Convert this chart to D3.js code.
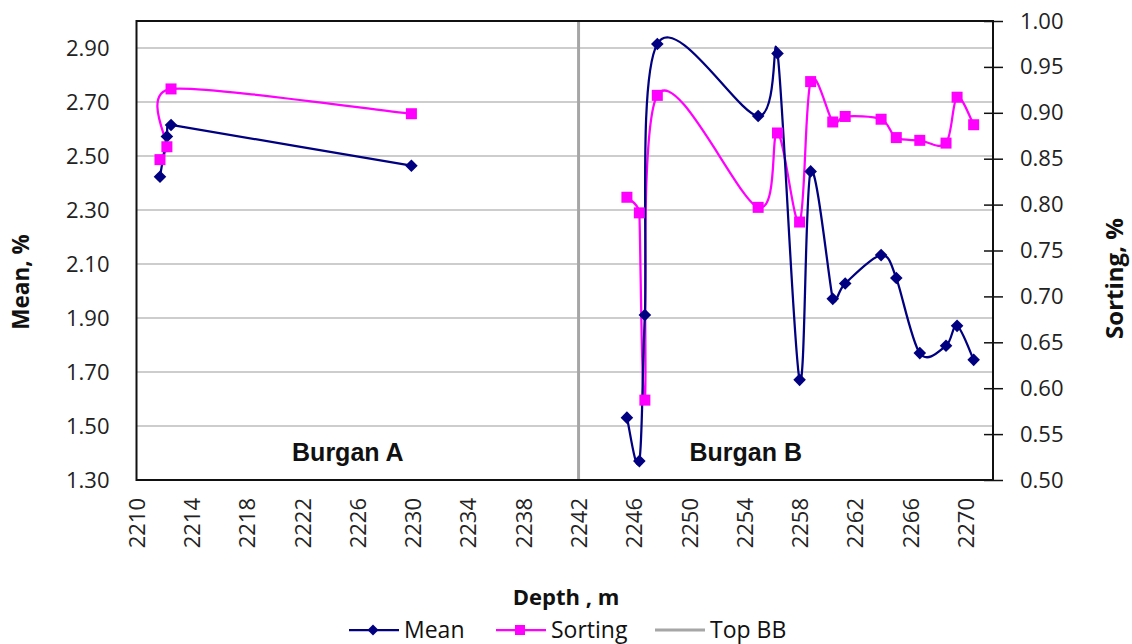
<!DOCTYPE html>
<html><head><meta charset="utf-8">
<script src="https://cdn.jsdelivr.net/npm/d3@7/dist/d3.min.js"></script>
<style>body{margin:0;background:#fff} svg{display:block}</style>
</head><body><svg id="c" width="1132" height="644"></svg>
<script>
// ---- data ----
const depthA = [2211.7, 2212.2, 2212.5, 2229.9];
const meanA = [2.423, 2.572, 2.615, 2.464];
const sortingA = [0.849, 0.863, 0.926, 0.899];
const depthB = [2245.5, 2246.4, 2246.8, 2247.7, 2255.0, 2256.4, 2258.0, 2258.8, 2260.4, 2261.3, 2263.9, 2265.0, 2266.7, 2268.6, 2269.4, 2270.6];
const meanB = [1.531, 1.370, 1.911, 2.915, 2.648, 2.880, 1.671, 2.443, 1.971, 2.028, 2.133, 2.048, 1.770, 1.797, 1.871, 1.745];
const sortingB = [0.808, 0.791, 0.587, 0.919, 0.797, 0.878, 0.781, 0.934, 0.890, 0.896, 0.893, 0.873, 0.870, 0.867, 0.917, 0.887];
const topBBDepth = [2242, 2242];
const topBBMean = [1.3, 3.0];
const xTicks = [2210, 2214, 2218, 2222, 2226, 2230, 2234, 2238, 2242, 2246, 2250, 2254, 2258, 2262, 2266, 2270];
const yLeftTicks = [1.3, 1.5, 1.7, 1.9, 2.1, 2.3, 2.5, 2.7, 2.9];
const yRightTicks = [0.5, 0.55, 0.6, 0.65, 0.7, 0.75, 0.8, 0.85, 0.9, 0.95, 1.0];
const zoneLabels = ["Burgan A", "Burgan B"];
const zoneDepths = [2225.3, 2254.1];
const legendNames = ["Mean", "Sorting", "Top BB"];

// ---- layout ----
const L = 136.5, R = 993, T = 21, B = 480;
const svg = d3.select("#c");
const x = d3.scaleLinear().domain([2210, 2272]).range([L, R]);
const yL = d3.scaleLinear().domain([1.3, 3.0]).range([B, T]);
const yR = d3.scaleLinear().domain([0.5, 1.0]).range([B, T]);
const meanColor = "#000080", sortColor = "#ff00ff", topColor = "#a6a6a6";
const tickFont = "'Open Sans', sans-serif";

// gridlines
svg.append("g").selectAll("line").data(yLeftTicks.slice(1)).join("line")
  .attr("x1", L).attr("x2", R).attr("y1", d => yL(d)).attr("y2", d => yL(d))
  .attr("stroke", "#bdbdbd").attr("stroke-width", 1.5);

// left axis labels
const axL = svg.append("g").attr("transform", `translate(${L},0)`)
  .call(d3.axisLeft(yL).tickValues(yLeftTicks).tickFormat(d3.format(".2f")).tickSize(0).tickPadding(27));
axL.select(".domain").remove();
axL.selectAll("text").attr("font-family", tickFont).attr("font-size", 22).attr("fill", "#222");

// right axis
const axR = svg.append("g").attr("transform", `translate(${R},0)`)
  .call(d3.axisRight(yR).tickValues(yRightTicks).tickFormat(d3.format(".2f")).tickSize(10).tickPadding(17));
axR.select(".domain").remove();
axR.selectAll(".tick line").attr("x1", -9).attr("stroke", "#111").attr("stroke-width", 1.5);
axR.selectAll("text").attr("font-family", tickFont).attr("font-size", 22).attr("fill", "#222");

// bottom axis labels
const axB = svg.append("g").attr("transform", `translate(0,${B})`)
  .call(d3.axisBottom(x).tickValues(xTicks).tickFormat(d3.format("d")).tickSize(0));
axB.select(".domain").remove();
axB.selectAll("text")
  .attr("font-family", tickFont).attr("font-size", 22).attr("fill", "#222")
  .attr("text-anchor", "end").attr("transform", "rotate(-90)")
  .attr("x", -18).attr("y", 0).attr("dy", "0.36em");

// Top BB line
svg.append("line")
  .attr("x1", x(topBBDepth[0])).attr("x2", x(topBBDepth[1]))
  .attr("y1", yL(topBBMean[0])).attr("y2", yL(topBBMean[1]))
  .attr("stroke", topColor).attr("stroke-width", 3);

// plot border
svg.append("rect").attr("x", L).attr("y", T).attr("width", R - L).attr("height", B - T)
  .attr("fill", "none").attr("stroke", "#111").attr("stroke-width", 2);

// spreadsheet-style smoothed line: Catmull-Rom tangents, limited to half of the adjacent segments
function smoothPath(pts) {
  const n = pts.length;
  const dist = (a, b) => Math.hypot(b[0] - a[0], b[1] - a[1]);
  const tang = pts.map((p, i) => {
    const a = pts[Math.max(0, i - 1)], b = pts[Math.min(n - 1, i + 1)];
    const t = [b[0] - a[0], b[1] - a[1]];
    const len = Math.hypot(t[0], t[1]) || 1;
    let f = 1 / 6;
    if (i > 0) f = Math.min(f, dist(pts[i - 1], p) / (2 * len));
    if (i < n - 1) f = Math.min(f, dist(p, pts[i + 1]) / (2 * len));
    return [t[0] * f, t[1] * f];
  });
  const path = d3.path();
  path.moveTo(pts[0][0], pts[0][1]);
  for (let i = 0; i < n - 1; i++) {
    const p = pts[i], q = pts[i + 1];
    path.bezierCurveTo(p[0] + tang[i][0], p[1] + tang[i][1],
      q[0] - tang[i + 1][0], q[1] - tang[i + 1][1], q[0], q[1]);
  }
  return path.toString();
}

function drawSeries(depths, vals, ys, color) {
  const pts = depths.map((d, i) => [x(d), ys(vals[i])]);
  svg.append("path").attr("d", smoothPath(pts))
    .attr("fill", "none").attr("stroke", color).attr("stroke-width", 2.25);
  return pts;
}
const sortPts = [drawSeries(depthA, sortingA, yR, sortColor), drawSeries(depthB, sortingB, yR, sortColor)].flat();
const meanPts = [drawSeries(depthA, meanA, yL, meanColor), drawSeries(depthB, meanB, yL, meanColor)].flat();

const diamond = s => `M0,${-s}L${s},0L0,${s}L${-s},0Z`;
svg.append("g").selectAll("path").data(meanPts).join("path")
  .attr("transform", d => `translate(${d[0]},${d[1]})`).attr("d", diamond(6.3))
  .attr("fill", meanColor);
svg.append("g").selectAll("rect").data(sortPts).join("rect")
  .attr("x", d => d[0] - 5.5).attr("y", d => d[1] - 5.5).attr("width", 11).attr("height", 11)
  .attr("fill", sortColor);

// zone labels
svg.append("g").selectAll("text").data(zoneLabels).join("text")
  .attr("x", (d, i) => x(zoneDepths[i])).attr("y", 461)
  .attr("text-anchor", "middle").attr("font-family", "'Liberation Sans', Arial, sans-serif")
  .attr("font-weight", "bold").attr("font-size", 25).attr("fill", "#111").text(d => d);

// axis titles
svg.append("text").attr("transform", "translate(21,282) rotate(-90)")
  .attr("text-anchor", "middle").attr("dy", "0.35em")
  .attr("font-family", tickFont).attr("font-weight", "bold").attr("font-size", 22.5).attr("fill", "#111")
  .text("Mean, %");
svg.append("text").attr("transform", "translate(1114.5,278.5) rotate(-90)")
  .attr("text-anchor", "middle").attr("dy", "0.35em")
  .attr("font-family", tickFont).attr("font-weight", "bold").attr("font-size", 24).attr("fill", "#111")
  .text("Sorting, %");
svg.append("text").attr("x", 566).attr("y", 597).attr("dy", "0.35em")
  .attr("text-anchor", "middle")
  .attr("font-family", tickFont).attr("font-weight", "bold").attr("font-size", 22).attr("fill", "#111")
  .text("Depth , m");

// legend
const legX = [349, 496, 655];
const legColors = [meanColor, sortColor, topColor];
const ly = 630;
const lg = svg.append("g").selectAll("g").data(legendNames).join("g")
  .attr("transform", (d, i) => `translate(${legX[i]},${ly})`);
lg.append("line").attr("x1", 0).attr("x2", 50).attr("y1", 0).attr("y2", 0)
  .attr("stroke", (d, i) => legColors[i]).attr("stroke-width", (d, i) => i === 2 ? 3 : 2.25);
lg.filter((d, i) => i === 0).append("path").attr("transform", "translate(24,0)").attr("d", diamond(5.5)).attr("fill", meanColor);
lg.filter((d, i) => i === 1).append("rect").attr("x", 19).attr("y", -5).attr("width", 10).attr("height", 10).attr("fill", sortColor);
lg.append("text").attr("x", 55).attr("dy", "0.35em")
  .attr("font-family", tickFont).attr("font-size", 23).attr("fill", "#111").text(d => d);
</script></body></html>
